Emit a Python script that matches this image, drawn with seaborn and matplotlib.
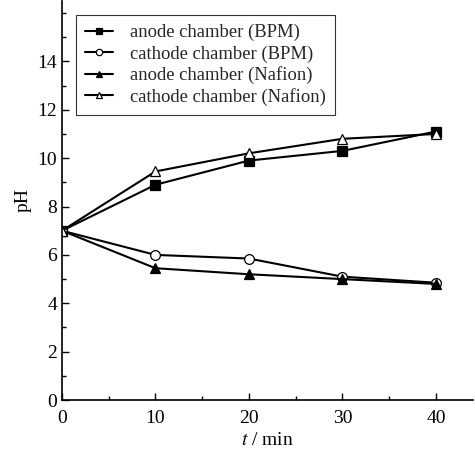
import pandas as pd
import matplotlib
matplotlib.use('Agg')
import matplotlib.pyplot as plt
import seaborn as sns
from matplotlib.ticker import MultipleLocator

# dados
tempo = [0, 10, 20, 30, 40]
anodo_bpm = [7.0, 8.9, 9.9, 10.3, 11.1]
catodo_bpm = [7.0, 6.0, 5.85, 5.1, 4.85]
anodo_nafion = [7.0, 5.45, 5.2, 5.0, 4.8]
catodo_nafion = [7.0, 9.45, 10.2, 10.8, 11.0]

series = ['anode chamber (BPM)', 'cathode chamber (BPM)',
          'anode chamber (Nafion)', 'cathode chamber (Nafion)']
valores = [anodo_bpm, catodo_bpm, anodo_nafion, catodo_nafion]

df = pd.DataFrame({
    't': tempo * 4,
    'pH': sum(valores, []),
    'serie': [s for s in series for _ in tempo],
})

sns.set_style('ticks')
plt.rcParams['font.family'] = ['Liberation Serif', 'DejaVu Serif']
plt.rcParams['mathtext.fontset'] = 'stix'

fig = plt.figure(figsize=(4.75, 4.49), dpi=100)
ax = fig.add_axes([0.1305, 0.109, 0.866, 0.889])

marcadores = {'anode chamber (BPM)': 's', 'cathode chamber (BPM)': 'o',
              'anode chamber (Nafion)': '^', 'cathode chamber (Nafion)': '^'}
preench = {'anode chamber (BPM)': 'black', 'cathode chamber (BPM)': 'white',
           'anode chamber (Nafion)': 'black', 'cathode chamber (Nafion)': 'white'}

for s in series:
    sub = df[df['serie'] == s]
    sns.lineplot(data=sub, x='t', y='pH', ax=ax, color='black', linewidth=1.5,
                 marker=marcadores[s], markersize=7, markerfacecolor=preench[s],
                 markeredgecolor='black', markeredgewidth=0.9, label=s)

ax.set_xlim(0, 44)
ax.set_ylim(0, 16.5)
ax.set_xticks([0, 10, 20, 30, 40])
ax.set_yticks([0, 2, 4, 6, 8, 10, 12, 14])
ax.xaxis.set_minor_locator(MultipleLocator(5))
ax.yaxis.set_minor_locator(MultipleLocator(1))
ax.tick_params(which='both', direction='in', length=5, width=1, labelsize=14,
               color='black', labelcolor='black')
ax.tick_params(which='minor', length=3)
ax.tick_params(axis='x', pad=7)
for lado in ['top', 'right']:
    ax.spines[lado].set_visible(False)
for lado in ['left', 'bottom']:
    ax.spines[lado].set_linewidth(1.2)
    ax.spines[lado].set_color('black')

ax.set_xlabel('$t$ / min', fontsize=14, color='black', labelpad=4)
ax.set_ylabel('pH', fontsize=14, color='black', labelpad=4)

leg = ax.legend(loc='upper left', bbox_to_anchor=(0.034, 0.965), borderaxespad=0,
                fontsize=13.4, frameon=True, fancybox=False, edgecolor='black',
                handlelength=1.5, handletextpad=0.9, borderpad=0.5,
                labelspacing=0.2, markerscale=0.65)
leg.get_frame().set_linewidth(0.8)

plt.savefig('out.png', dpi=100)
